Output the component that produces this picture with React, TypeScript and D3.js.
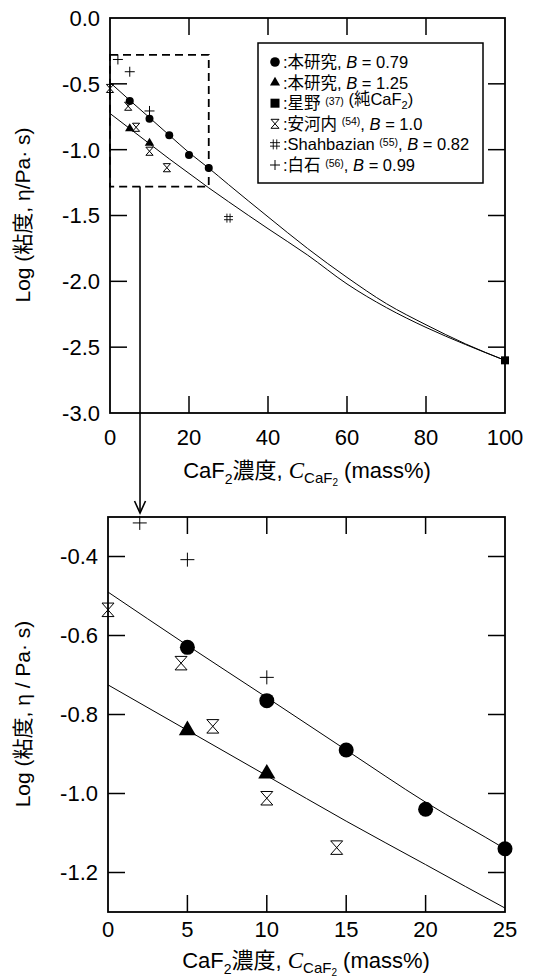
import React from "react";
import * as d3 from "d3";

const SANS = "'Liberation Sans', Arial, 'Noto Sans CJK JP', sans-serif";
const SERIF = "'Liberation Serif', 'Times New Roman', serif";

// 本研究, B = 0.79
const circleX = [5, 10, 15, 20, 25];
const circleY = [-0.63, -0.765, -0.89, -1.04, -1.14];
// 本研究, B = 1.25
const triX = [5, 10];
const triY = [-0.84, -0.95];
// 星野 (純CaF2)
const squareX = [100];
const squareY = [-2.6];
// 安河内, B = 1.0
const hourX = [0, 4.6, 6.6, 10, 14.4];
const hourY = [-0.535, -0.67, -0.83, -1.012, -1.137];
// Shahbazian, B = 0.82
const hashX = [30];
const hashY = [-1.52];
// 白石, B = 0.99
const plusX = [2, 5, 10];
const plusY = [-0.315, -0.408, -0.706];

// fitted curves
const fitX = [0, 5, 10, 15, 20, 25, 30, 40, 50, 60, 70, 80, 90, 100];
const fit079 = [-0.49, -0.625, -0.757, -0.89, -1.022, -1.14, -1.265, -1.51, -1.75, -1.97, -2.17, -2.33, -2.475, -2.6];
const fit125 = [-0.725, -0.84, -0.955, -1.07, -1.18, -1.29, -1.395, -1.6, -1.8, -2.02, -2.2, -2.35, -2.48, -2.6];

const topXTicks = [0, 20, 40, 60, 80, 100];
const topYTicks = [0, -0.5, -1, -1.5, -2, -2.5, -3];
const botXTicks = [0, 5, 10, 15, 20, 25];
const botYTicks = [-0.4, -0.6, -0.8, -1.0, -1.2];

const zoomBox = { x0: 0, x1: 25, y0: -0.28, y1: -1.28 };

type Kind = "circle" | "tri" | "square" | "hour" | "hash" | "plus";

function Marker({ kind, x, y, s }: { kind: Kind; x: number; y: number; s: number }) {
  const t = `translate(${x},${y})`;
  if (kind === "circle") return <circle cx={x} cy={y} r={s} fill="#000" />;
  if (kind === "tri") {
    const w = s * 1.1, h = w * 1.7;
    return <path transform={t} d={`M0,${-h * 2 / 3}L${w},${h / 3}L${-w},${h / 3}Z`} fill="#000" />;
  }
  if (kind === "square") return <rect x={x - s} y={y - s} width={2 * s} height={2 * s} fill="#000" />;
  if (kind === "hour") {
    const w = s * 0.8, h = s * 0.9;
    return <path transform={t} d={`M${-w},${-h}H${w}L${-w},${h}H${w}Z`} fill="none" stroke="#000" strokeWidth={1} />;
  }
  if (kind === "hash") {
    const a = s * 0.35;
    return (
      <path transform={t} d={`M${-a},${-s}V${s}M${a},${-s}V${s}M${-s},${-a}H${s}M${-s},${a}H${s}`}
        fill="none" stroke="#000" strokeWidth={0.9} />
    );
  }
  return <path transform={t} d={`M${-s},0H${s}M0,${-s}V${s}`} fill="none" stroke="#000" strokeWidth={1} />;
}

interface PanelProps {
  id: string;
  left: number; top: number; w: number; h: number;
  xDomain: [number, number]; yDomain: [number, number];
  xTicks: number[]; yTicks: number[];
  yFmt: (v: number) => string;
  xLabelDy: number;
  sizes: Record<Kind, number>;
  showZoom?: boolean;
}

function Panel(p: PanelProps) {
  const x = d3.scaleLinear().domain(p.xDomain).range([p.left, p.left + p.w]);
  const y = d3.scaleLinear().domain(p.yDomain).range([p.top + p.h, p.top]);
  const line = d3.line<number>().x((_, i) => x(fitX[i])).y((v) => y(v)).curve(d3.curveMonotoneX);
  const tl = 17;
  const series: [Kind, number[], number[]][] = [
    ["hour", hourX, hourY],
    ["hash", hashX, hashY],
    ["plus", plusX, plusY],
    ["square", squareX, squareY],
    ["tri", triX, triY],
    ["circle", circleX, circleY],
  ];
  const inX = (v: number) => v >= p.xDomain[0] && v <= p.xDomain[1];
  return (
    <g>
      <defs>
        <clipPath id={p.id}>
          <rect x={p.left} y={p.top} width={p.w} height={p.h} />
        </clipPath>
      </defs>
      <g clipPath={`url(#${p.id})`} fill="none" stroke="#000" strokeWidth={1}>
        <path d={line(fit079) || ""} />
        <path d={line(fit125) || ""} />
      </g>
      {series.map(([k, xs, ys]) =>
        xs.map((xv, i) =>
          inX(xv) && ys[i] <= p.yDomain[1] + 0.02 && ys[i] >= p.yDomain[0] ? (
            <Marker key={k + i} kind={k} x={x(xv)} y={y(ys[i])} s={p.sizes[k]} />
          ) : null
        )
      )}
      {p.showZoom && (
        <rect x={x(zoomBox.x0)} y={y(zoomBox.y0)} width={x(zoomBox.x1) - x(zoomBox.x0)}
          height={y(zoomBox.y1) - y(zoomBox.y0)} fill="none" stroke="#000" strokeWidth={1.8}
          strokeDasharray="8,5" />
      )}
      <g stroke="#000" strokeWidth={1.5}>
        {p.xTicks.slice(1, -1).map((t) => (
          <g key={"xt" + t}>
            <line x1={x(t)} x2={x(t)} y1={p.top + p.h} y2={p.top + p.h - tl} />
            <line x1={x(t)} x2={x(t)} y1={p.top} y2={p.top + tl} />
          </g>
        ))}
        {p.yTicks.filter((t) => t < p.yDomain[1] && t > p.yDomain[0]).map((t) => (
          <g key={"yt" + t}>
            <line x1={p.left} x2={p.left + tl} y1={y(t)} y2={y(t)} />
            <line x1={p.left + p.w} x2={p.left + p.w - tl} y1={y(t)} y2={y(t)} />
          </g>
        ))}
      </g>
      <rect x={p.left} y={p.top} width={p.w} height={p.h} fill="none" stroke="#000" strokeWidth={1.8} />
      <g fontFamily={SANS} fontSize={22} fill="#000">
        {p.xTicks.map((t) => (
          <text key={"xl" + t} x={x(t)} y={p.top + p.h + p.xLabelDy} textAnchor="middle">{t}</text>
        ))}
        {p.yTicks.map((t) => (
          <text key={"yl" + t} x={p.left - 10} y={y(t)} dy="0.36em" textAnchor="end">{p.yFmt(t)}</text>
        ))}
      </g>
    </g>
  );
}

function XTitle({ cx, yb }: { cx: number; yb: number }) {
  return (
    <text x={cx} y={yb} textAnchor="middle" fontFamily={SANS} fontSize={22} fill="#000">
      CaF<tspan dy={6} fontSize={14}>2</tspan>
      <tspan dy={-6}>濃度, </tspan>
      <tspan fontFamily={SERIF} fontStyle="italic" fontSize={23}>C</tspan>
      <tspan dy={5} fontSize={15}>CaF</tspan>
      <tspan dy={3} fontSize={10}>2</tspan>
      <tspan dy={-8}> (mass%)</tspan>
    </text>
  );
}

function YTitle({ x, y, spaced }: { x: number; y: number; spaced: boolean }) {
  return (
    <text transform={`translate(${x},${y}) rotate(-90)`} textAnchor="middle" fontFamily={SANS} fontSize={21} fill="#000">
      {spaced ? "Log (粘度, η / Pa· s)" : "Log (粘度, η/Pa· s)"}
    </text>
  );
}

const legendRows: { kind: Kind; main: string; sup?: string; rest?: string; b?: string; sub?: boolean }[] = [
  { kind: "circle", main: ":本研究, ", b: " = 0.79" },
  { kind: "tri", main: ":本研究, ", b: " = 1.25" },
  { kind: "square", main: ":星野 ", sup: "(37)", rest: " (純CaF", sub: true },
  { kind: "hour", main: ":安河内 ", sup: "(54)", b: " = 1.0" },
  { kind: "hash", main: ":Shahbazian ", sup: "(55)", b: " = 0.82" },
  { kind: "plus", main: ":白石 ", sup: "(56)", b: " = 0.99" },
];
const legendSizes: Record<Kind, number> = { circle: 4.8, tri: 4.6, square: 4.5, hour: 5, hash: 5, plus: 5 };

function Legend({ x0, y0 }: { x0: number; y0: number }) {
  return (
    <g>
      <rect x={x0} y={y0} width={225} height={140} fill="#fff" stroke="#000" strokeWidth={1.5} />
      {legendRows.map((r, i) => {
        const cy = y0 + 19 + i * 20.6;
        return (
          <g key={i}>
            <Marker kind={r.kind} x={x0 + 17} y={cy} s={legendSizes[r.kind]} />
            <text x={x0 + 25} y={cy + 6} fontFamily={SANS} fontSize={16.5} fill="#000">
              {r.main}
              {r.sup && <tspan dy={-4.5} fontSize={10.5}>{r.sup}</tspan>}
              {r.sup && <tspan dy={4.5}>{r.b ? "," : ""}</tspan>}
              {r.rest && <tspan>{r.rest}</tspan>}
              {r.sub && <tspan dy={4} fontSize={11}>2</tspan>}
              {r.sub && <tspan dy={-4}>)</tspan>}
              {r.b && <tspan>{r.sup ? " " : ""}</tspan>}
              {r.b && <tspan fontStyle="italic">B</tspan>}
              {r.b && <tspan>{r.b}</tspan>}
            </text>
          </g>
        );
      })}
    </g>
  );
}

export default function App() {
  const W = 535, H = 978;
  const top = { left: 110, top: 18, w: 395, h: 395 };
  const bot = { left: 108, top: 517, w: 397, h: 395 };
  const xTop = d3.scaleLinear().domain([0, 100]).range([top.left, top.left + top.w]);
  const yTop = d3.scaleLinear().domain([-3, 0]).range([top.top + top.h, top.top]);
  const arrowX = xTop(7.6);
  const arrowY0 = yTop(zoomBox.y1);
  const arrowY1 = bot.top - 4;
  return (
    <svg width={W} height={H} viewBox={`0 0 ${W} ${H}`}
      style={{ position: "absolute", left: 0, top: 0, background: "#fff" }}>
      <rect width={W} height={H} fill="#fff" />
      <Panel id="clipTop" {...top} xDomain={[0, 100]} yDomain={[-3, 0]} xTicks={topXTicks} yTicks={topYTicks}
        yFmt={(v) => d3.format(".1f")(v).replace("−", "-")} xLabelDy={32}
        sizes={{ circle: 4, tri: 4.3, square: 4, hour: 4.5, hash: 4.5, plus: 5 }} showZoom />
      <Legend x0={258} y0={43} />
      <Panel id="clipBot" {...bot} xDomain={[0, 25]} yDomain={[-1.3, -0.3]} xTicks={botXTicks} yTicks={botYTicks}
        yFmt={(v) => d3.format(".1f")(v).replace("−", "-")} xLabelDy={25}
        sizes={{ circle: 7.5, tri: 7.8, square: 6, hour: 7.5, hash: 6, plus: 7 }} />
      <g stroke="#000" strokeWidth={1.6} fill="none">
        <line x1={arrowX} x2={arrowX} y1={arrowY0} y2={arrowY1} />
        <path d={`M${arrowX - 5.5},${arrowY1 - 12}L${arrowX},${arrowY1}L${arrowX + 5.5},${arrowY1 - 12}`} />
      </g>
      <XTitle cx={307} yb={478} />
      <XTitle cx={306} yb={968} />
      <YTitle x={30} y={215} spaced={false} />
      <YTitle x={30} y={714} spaced />
    </svg>
  );
}
